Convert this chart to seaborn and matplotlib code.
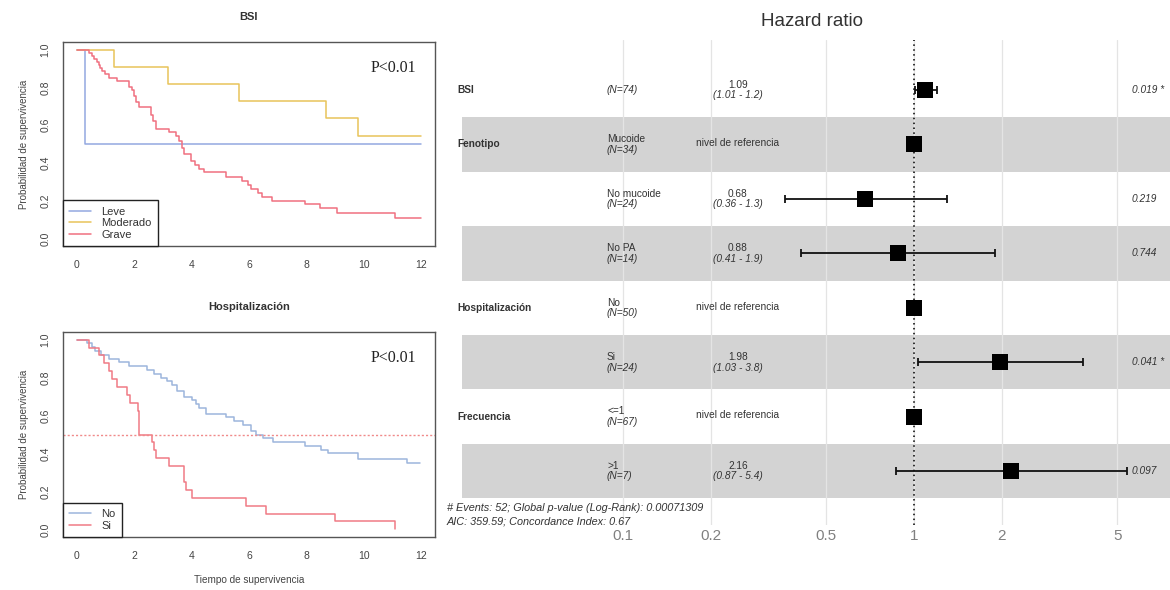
import numpy as np
import pandas as pd
import matplotlib
matplotlib.use("Agg")
import matplotlib.pyplot as plt
import matplotlib.transforms as mtransforms
from matplotlib.lines import Line2D
from matplotlib.ticker import NullLocator
import seaborn as sns

# ---------------- Kaplan-Meier data: BSI ----------------
leve_t = [0.0, 0.28, 12.0]
leve_s = [1.0, 0.5, 0.5]
moderado_t = [0.0, 1.29, 3.19, 5.64, 8.67, 9.8, 12.0]
moderado_s = [1.0, 0.909, 0.818, 0.727, 0.636, 0.545, 0.545]
grave_t = [0.0, 0.42, 0.52, 0.6, 0.7, 0.77, 0.82, 0.88, 1.0, 1.12, 1.4, 1.82, 1.92, 2.0,
           2.08, 2.17, 2.58, 2.66, 2.76, 3.22, 3.45, 3.57, 3.67, 3.74, 3.98, 4.12, 4.27,
           4.44, 5.2, 5.77, 5.95, 6.08, 6.3, 6.47, 6.8, 7.94, 8.46, 9.05, 11.08, 12.0]
grave_s = [1.0, 0.984, 0.967, 0.95, 0.934, 0.918, 0.902, 0.885, 0.869, 0.852, 0.836, 0.803,
           0.787, 0.754, 0.721, 0.695, 0.656, 0.623, 0.578, 0.561, 0.545, 0.516, 0.48, 0.445,
           0.41, 0.39, 0.37, 0.35, 0.325, 0.305, 0.285, 0.262, 0.24, 0.222, 0.197, 0.18,
           0.162, 0.135, 0.108, 0.108]
bsi_labels = ["Leve", "Moderado", "Grave"]

# ---------------- Kaplan-Meier data: Hospitalización ----------------
no_t = [0.0, 0.36, 0.54, 0.65, 0.83, 1.12, 1.47, 1.82, 2.44, 2.69, 2.93, 3.16, 3.33, 3.5,
        3.74, 4.03, 4.15, 4.27, 4.5, 5.2, 5.49, 5.78, 6.07, 6.25, 6.48, 6.83, 7.94, 8.52,
        8.75, 9.8, 11.5, 11.96]
no_s = [1.0, 0.98, 0.96, 0.94, 0.92, 0.90, 0.88, 0.86, 0.84, 0.82, 0.80, 0.78, 0.76, 0.73,
        0.70, 0.68, 0.66, 0.64, 0.61, 0.59, 0.57, 0.55, 0.52, 0.50, 0.48, 0.46, 0.44, 0.42,
        0.40, 0.37, 0.35, 0.35]
si_t = [0.0, 0.42, 0.77, 0.95, 1.12, 1.24, 1.41, 1.76, 1.85, 2.12, 2.17, 2.63, 2.7, 2.75,
        3.2, 3.74, 3.8, 4.0, 5.9, 6.6, 8.99, 11.08]
si_s = [1.0, 0.958, 0.917, 0.875, 0.833, 0.792, 0.75, 0.708, 0.667, 0.625, 0.5, 0.458,
        0.417, 0.375, 0.333, 0.25, 0.208, 0.167, 0.125, 0.083, 0.042, 0.0]
hosp_labels = ["No", "Si"]

km_xticks = [0, 2, 4, 6, 8, 10, 12]
km_yticks = [0.0, 0.2, 0.4, 0.6, 0.8, 1.0]

# ---------------- Forest plot data ----------------
fp_var = ["BSI", "Fenotipo", "", "", "Hospitalización", "", "Frecuencia", ""]
fp_level = ["", "Mucoide", "No mucoide", "No PA", "No", "Si", "<=1", ">1"]
fp_n = [74, 34, 24, 14, 50, 24, 67, 7]
fp_hr = [1.09, 1.0, 0.68, 0.88, 1.0, 1.98, 1.0, 2.16]
fp_lo = [1.01, np.nan, 0.36, 0.41, np.nan, 1.03, np.nan, 0.87]
fp_hi = [1.2, np.nan, 1.3, 1.9, np.nan, 3.8, np.nan, 5.4]
fp_ref = [False, True, False, False, True, False, True, False]
fp_p = ["0.019 *", "", "0.219", "0.744", "", "0.041 *", "", "0.097"]
fp_ticks = [0.1, 0.2, 0.5, 1, 2, 5]
fp_ticklabels = ["0.1", "0.2", "0.5", "1", "2", "5"]
fp_footer = ["# Events: 52; Global p-value (Log-Rank): 0.00071309",
             "AIC: 359.59; Concordance Index: 0.67"]

# ---------------- style ----------------
sns.set_style("white")
plt.rcParams["font.family"] = ["Liberation Sans", "DejaVu Sans"]

W, H = 1170, 590
fig = plt.figure(figsize=(W / 100, H / 100), dpi=100)


def rect(l, t, r, b):
    return [l / W, 1 - b / H, (r - l) / W, (b - t) / H]


def km_panel(ax, curves, colors, title, xlabel=None, dotted_half=False):
    frames = [pd.DataFrame({"t": t, "S": s, "grupo": lab}) for lab, t, s in curves]
    df = pd.concat(frames, ignore_index=True)
    sns.lineplot(data=df, x="t", y="S", hue="grupo", palette=colors,
                 drawstyle="steps-post", estimator=None, sort=False,
                 linewidth=1.1, legend=False, ax=ax)
    if dotted_half:
        ax.axhline(0.5, color="#f08a8a", ls=(0, (1.5, 1.5)), lw=1.0)
    ax.set_xlim(-0.48, 12.48)
    ax.set_ylim(-0.04, 1.04)
    ax.set_xticks(km_xticks)
    ax.set_xticklabels([str(v) for v in km_xticks])
    ax.set_yticks(km_yticks)
    ax.set_yticklabels([f"{v:.1f}" for v in km_yticks])
    for lab in ax.get_yticklabels():
        lab.set_rotation(90)
        lab.set_va("center")
    ax.tick_params(axis="both", direction="out", length=4, width=0.8, color="#555555",
                   labelsize=7.5, labelcolor="#444444", pad=6)
    ax.tick_params(axis="y", pad=5)
    for sp in ax.spines.values():
        sp.set_visible(True)
        sp.set_color("#555555")
        sp.set_linewidth(1.0)
    ax.set_ylabel("Probabilidad de supervivencia", fontsize=7, color="#444444", labelpad=8)
    if xlabel:
        ax.set_xlabel(xlabel, fontsize=7.2, color="#444444", labelpad=10)
    else:
        ax.set_xlabel("")
    ax.set_title(title, fontsize=8, fontweight="bold", color="#333333", pad=16)
    ax.text(0.887, 0.875, "P<0.01", transform=ax.transAxes, ha="center", va="center",
            fontsize=11.5, family="Liberation Serif", color="#222222")
    handles = [Line2D([], [], color=colors[lab], lw=1.1) for lab, _, _ in curves]
    leg = ax.legend(handles, [lab for lab, _, _ in curves], loc="lower left",
                    bbox_to_anchor=(0, 0), borderaxespad=0, fontsize=8,
                    frameon=True, fancybox=False, framealpha=1, edgecolor="#222222",
                    handlelength=2.0, handletextpad=0.9, labelspacing=0.15,
                    borderpad=0.55)
    leg.get_frame().set_linewidth(1.0)
    for txt in leg.get_texts():
        txt.set_color("#333333")


ax1 = fig.add_axes(rect(63, 42, 435, 246))
km_panel(ax1,
         [("Leve", leve_t, leve_s), ("Moderado", moderado_t, moderado_s),
          ("Grave", grave_t, grave_s)],
         {"Leve": "#93a8e0", "Moderado": "#e8c45a", "Grave": "#f07080"},
         "BSI")

ax2 = fig.add_axes(rect(63, 332, 435, 537))
km_panel(ax2,
         [("No", no_t, no_s), ("Si", si_t, si_s)],
         {"No": "#9db5dc", "Si": "#f07a85"},
         "Hospitalización", xlabel="Tiempo de supervivencia", dotted_half=True)

# ---------------- Forest plot ----------------
ax3 = fig.add_axes(rect(445, 40, 1170, 525))
ax3.set_xscale("log")
left_log = (445 - 914) / 291.0
right_log = (1170 - 914) / 291.0
ax3.set_xlim(10 ** left_log, 10 ** right_log)
row_px = 54.43
ax3.set_ylim(1 + 435 / row_px, 1 - 50 / row_px)
rows = np.arange(1, len(fp_hr) + 1)

for sp in ax3.spines.values():
    sp.set_visible(False)
ax3.set_yticks([])
ax3.set_xticks(fp_ticks)
ax3.set_xticklabels(fp_ticklabels)
ax3.xaxis.set_minor_locator(NullLocator())
ax3.tick_params(axis="x", length=0, labelsize=11, labelcolor="#808080", pad=3)
ax3.set_axisbelow(True)
ax3.grid(axis="x", color="#e4e4e4", lw=0.9)
ax3.grid(axis="y", visible=False)

band_xmin = (462 - 445) / 725.0
for i, r in enumerate(rows):
    if i % 2 == 1:
        ax3.axhspan(r - 0.5, r + 0.5, xmin=band_xmin, xmax=1, color="#d3d3d3",
                    lw=0, zorder=0.2)

ax3.axvline(1, color="black", ls=(0, (1, 2.2)), lw=1.1, zorder=2)

hr = np.array(fp_hr)
lo = np.array(fp_lo)
hi = np.array(fp_hi)
ci_mask = ~np.isnan(lo)
ax3.errorbar(hr[ci_mask], rows[ci_mask],
             xerr=[hr[ci_mask] - lo[ci_mask], hi[ci_mask] - hr[ci_mask]],
             fmt="none", ecolor="#111111", elinewidth=1.3, capsize=3, capthick=1.3,
             zorder=3)
fp_df = pd.DataFrame({"hr": hr, "row": rows})
sns.scatterplot(data=fp_df, x="hr", y="row", marker="s", s=125, color="black",
                edgecolor="black", linewidth=0, zorder=4, legend=False, ax=ax3)
ax3.set_xlabel("")
ax3.set_ylabel("")

tr = mtransforms.blended_transform_factory(ax3.transAxes, ax3.transData)
x_var = (457 - 445) / 725.0
x_lvl = (607 - 445) / 725.0
x_hr = (738 - 445) / 725.0
x_p = (1132 - 445) / 725.0
tc = "#333333"
fs = 7.3
d_up = 0.095
d_dn = 0.10
for i, r in enumerate(rows):
    if fp_var[i]:
        ax3.text(x_var, r, fp_var[i], transform=tr, ha="left", va="center",
                 fontsize=fs, fontweight="bold", color=tc)
    ntxt = f"(N={fp_n[i]})"
    if fp_level[i]:
        ax3.text(x_lvl, r - d_up, fp_level[i], transform=tr, ha="left", va="center",
                 fontsize=fs, color=tc)
        ax3.text(x_lvl, r + d_dn, ntxt, transform=tr, ha="left", va="center",
                 fontsize=fs, style="italic", color=tc)
    else:
        ax3.text(x_lvl, r, ntxt, transform=tr, ha="left", va="center",
                 fontsize=fs, style="italic", color=tc)
    if fp_ref[i]:
        ax3.text(x_hr, r - 0.02, "nivel de referencia", transform=tr, ha="center",
                 va="center", fontsize=fs, color=tc)
    else:
        ax3.text(x_hr, r - d_up, f"{fp_hr[i]:g}", transform=tr, ha="center",
                 va="center", fontsize=fs, color=tc)
        ax3.text(x_hr, r + d_dn, f"({fp_lo[i]:g} - {fp_hi[i]:g})", transform=tr,
                 ha="center", va="center", fontsize=fs, style="italic", color=tc)
    if fp_p[i]:
        ax3.text(x_p, r, fp_p[i], transform=tr, ha="left", va="center",
                 fontsize=fs, style="italic", color=tc)

x_foot = (447 - 445) / 725.0
ax3.text(x_foot, 1 + (508 - 90) / row_px, fp_footer[0], transform=tr, ha="left",
         va="center", fontsize=7.8, style="italic", color=tc)
ax3.text(x_foot, 1 + (522 - 90) / row_px, fp_footer[1], transform=tr, ha="left",
         va="center", fontsize=7.8, style="italic", color=tc)

fig.text(812 / W, 1 - 21 / H, "Hazard ratio", ha="center", va="center",
         fontsize=13.5, color="#333333")

fig.savefig("out.png", dpi=100)
